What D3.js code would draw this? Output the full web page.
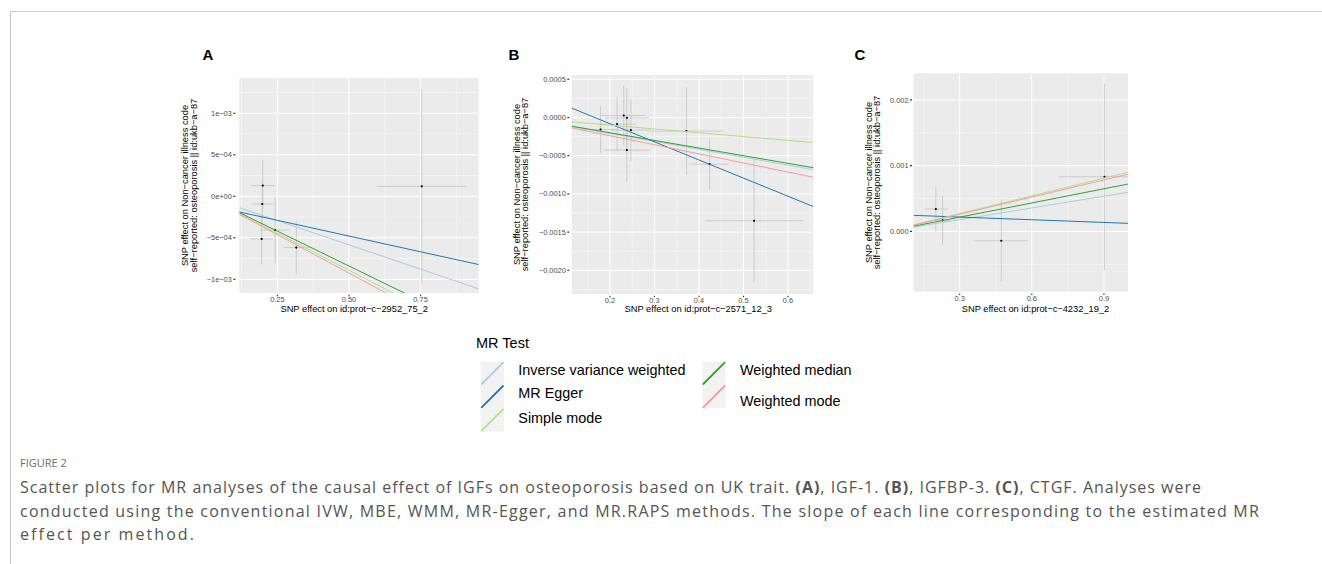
<!DOCTYPE html>
<html><head><meta charset="utf-8">
<script src="https://cdn.jsdelivr.net/npm/d3@7"></script>
<style>
body{margin:0;background:#fff;}
svg{display:block;font-family:"Liberation Sans",Arial,Helvetica,sans-serif;}
</style>
</head><body>
<svg id="chart" width="1322" height="564"></svg>
<script>
// ---------------- data ----------------
const methods = ["Inverse variance weighted","MR Egger","Simple mode","Weighted median","Weighted mode"];
const methodColors = ["#a6cee3","#1f78b4","#b2df8a","#33a02c","#fb9a99"];

// Panel A : IGF-1
const aExposure   = [0.199, 0.197, 0.242, 0.195, 0.316, 0.754];
const aOutcome    = [0.129e-3, -0.093e-3, -0.406e-3, -0.514e-3, -0.618e-3, 0.120e-3];
const aExposureHW = [0.042, 0.037, 0.052, 0.040, 0.044, 0.157];
const aOutcomeHW  = [0.31e-3, 0.28e-3, 0.40e-3, 0.308e-3, 0.325e-3, 1.17e-3];
const aIntercepts = [0, -0.100e-3, 0, 0, 0];
const aSlopes     = [-1.17e-3, -0.758e-3, -1.78e-3, -1.68e-3, -1.85e-3];
const aXDomain = [0.117, 0.953];
const aYDomain = [-1.165e-3, 1.425e-3];
const aXTicks = [0.25, 0.50, 0.75];
const aXTickLabels = ["0.25", "0.50", "0.75"];
const aYTicks = [-1e-3, -5e-4, 0, 5e-4, 1e-3];
const aYTickLabels = ["\u22121e\u221203", "\u22125e\u221204", "0e+00", "5e\u221204", "1e\u221203"];
const aXTitle = "SNP effect on id:prot\u2212c\u22122952_75_2";

// Panel B : IGFBP-3
const bExposure   = [0.179, 0.216, 0.231, 0.238, 0.247, 0.238, 0.372, 0.424, 0.524];
const bOutcome    = [-0.157e-3, -0.087e-3, 0.026e-3, -0.004e-3, -0.165e-3, -0.427e-3, -0.178e-3, -0.610e-3, -1.352e-3];
const bExposureHW = [0.040, 0.043, 0.050, 0.050, 0.045, 0.052, 0.083, 0.043, 0.110];
const bOutcomeHW  = [0.305e-3, 0.350e-3, 0.387e-3, 0.388e-3, 0.410e-3, 0.410e-3, 0.574e-3, 0.335e-3, 0.810e-3];
const bIntercepts = [0, 0.393e-3, 0, 0, 0];
const bSlopes     = [-1.04e-3, -2.372e-3, -0.50e-3, -1.00e-3, -1.19e-3];
const bXDomain = [0.114, 0.657];
const bYDomain = [-2.31e-3, 0.556e-3];
const bXTicks = [0.2, 0.3, 0.4, 0.5, 0.6];
const bXTickLabels = ["0.2", "0.3", "0.4", "0.5", "0.6"];
const bYTicks = [-0.002, -0.0015, -0.001, -0.0005, 0, 0.0005];
const bYTickLabels = ["\u22120.0020", "\u22120.0015", "\u22120.0010", "\u22120.0005", "0.0000", "0.0005"];
const bXTitle = "SNP effect on id:prot\u2212c\u22122571_12_3";

// Panel C : CTGF
const cExposure   = [0.201, 0.229, 0.473, 0.902];
const cOutcome    = [0.339e-3, 0.167e-3, -0.143e-3, 0.831e-3];
const cExposureHW = [0.048, 0.035, 0.110, 0.190];
const cOutcomeHW  = [0.343e-3, 0.373e-3, 0.625e-3, 1.42e-3];
const cIntercepts = [0, 0.258e-3, 0, 0, 0];
const cSlopes     = [0.594e-3, -0.136e-3, 0.90e-3, 0.72e-3, 0.87e-3];
const cXDomain = [0.108, 1.0];
const cYDomain = [-0.919e-3, 2.406e-3];
const cXTicks = [0.3, 0.6, 0.9];
const cXTickLabels = ["0.3", "0.6", "0.9"];
const cYTicks = [0, 0.001, 0.002];
const cYTickLabels = ["0.000", "0.001", "0.002"];
const cXTitle = "SNP effect on id:prot\u2212c\u22124232_19_2";

const yTitleLines = ["SNP effect on Non\u2212cancer illness code", "self\u2212reported: osteoporosis || id:ukb\u2212a\u221287"];
const panelLetters = ["A", "B", "C"];

// ---------------- layout ----------------
const svg = d3.select("#chart");
svg.append("rect").attr("width",1322).attr("height",564).attr("fill","#fff");
// frame
svg.append("line").attr("x1",10).attr("x2",1322).attr("y1",11.5).attr("y2",11.5).attr("stroke","#c8c8c8").attr("stroke-width",1);
svg.append("line").attr("x1",10.5).attr("x2",10.5).attr("y1",11).attr("y2",564).attr("stroke","#c8c8c8").attr("stroke-width",1);

const panels = [
  {ex:aExposure, out:aOutcome, exHW:aExposureHW, outHW:aOutcomeHW, ints:aIntercepts, slopes:aSlopes,
   xd:aXDomain, yd:aYDomain, xt:aXTicks, xtl:aXTickLabels, yt:aYTicks, ytl:aYTickLabels, xTitle:aXTitle,
   box:{l:239.3, r:478.7, t:78, b:293}, tickGap:5, titleX:[185,194], xTitleX:354.2, letterX:208},
  {ex:bExposure, out:bOutcome, exHW:bExposureHW, outHW:bOutcomeHW, ints:bIntercepts, slopes:bSlopes,
   xd:bXDomain, yd:bYDomain, xt:bXTicks, xtl:bXTickLabels, yt:bYTicks, ytl:bYTickLabels, xTitle:bXTitle,
   box:{l:571.7, r:813.3, t:75, b:294}, tickGap:3.4, titleX:[516.7,525], xTitleX:698.3, letterX:514},
  {ex:cExposure, out:cOutcome, exHW:cExposureHW, outHW:cOutcomeHW, ints:cIntercepts, slopes:cSlopes,
   xd:cXDomain, yd:cYDomain, xt:cXTicks, xtl:cXTickLabels, yt:cYTicks, ytl:cYTickLabels, xTitle:cXTitle,
   box:{l:913.5, r:1128, t:73.3, b:291.7}, tickGap:2.5, titleX:[868.3,876.7], xTitleX:1035.5, letterX:860}
];

function minorBreaks(ticks, domain){
  const step = ticks[1]-ticks[0];
  const out = [];
  for(let v = ticks[0]-step/2; v <= domain[1]; v += step){
    if (v >= domain[0]) out.push(v);
  }
  return out;
}

panels.forEach((p, pi) => {
  const x = d3.scaleLinear().domain(p.xd).range([p.box.l, p.box.r]);
  const y = d3.scaleLinear().domain(p.yd).range([p.box.b, p.box.t]);
  const g = svg.append("g");
  const clipId = "clip"+pi;
  svg.append("clipPath").attr("id",clipId).append("rect")
    .attr("x",p.box.l).attr("y",p.box.t).attr("width",p.box.r-p.box.l).attr("height",p.box.b-p.box.t);

  g.append("rect").attr("x",p.box.l).attr("y",p.box.t).attr("width",p.box.r-p.box.l).attr("height",p.box.b-p.box.t).attr("fill","#ebebeb");
  const gg = g.append("g").attr("clip-path",`url(#${clipId})`);
  minorBreaks(p.xt, p.xd).forEach(v => gg.append("line").attr("x1",x(v)).attr("x2",x(v)).attr("y1",p.box.t).attr("y2",p.box.b).attr("stroke","#fff").attr("stroke-width",0.5).attr("stroke-opacity",0.8));
  minorBreaks(p.yt, p.yd).forEach(v => gg.append("line").attr("y1",y(v)).attr("y2",y(v)).attr("x1",p.box.l).attr("x2",p.box.r).attr("stroke","#fff").attr("stroke-width",0.5).attr("stroke-opacity",0.8));
  p.xt.forEach(v => gg.append("line").attr("x1",x(v)).attr("x2",x(v)).attr("y1",p.box.t).attr("y2",p.box.b).attr("stroke","#fff").attr("stroke-width",1));
  p.yt.forEach(v => gg.append("line").attr("y1",y(v)).attr("y2",y(v)).attr("x1",p.box.l).attr("x2",p.box.r).attr("stroke","#fff").attr("stroke-width",1));

  // error bars
  p.ex.forEach((bx, i) => {
    gg.append("line").attr("x1",x(bx)).attr("x2",x(bx)).attr("y1",y(p.out[i]-p.outHW[i])).attr("y2",y(p.out[i]+p.outHW[i]))
      .attr("stroke","#bebebe").attr("stroke-width",0.7);
    gg.append("line").attr("y1",y(p.out[i])).attr("y2",y(p.out[i])).attr("x1",x(bx-p.exHW[i])).attr("x2",x(bx+p.exHW[i]))
      .attr("stroke","#bebebe").attr("stroke-width",0.7);
  });
  // points
  p.ex.forEach((bx, i) => {
    gg.append("circle").attr("cx",x(bx)).attr("cy",y(p.out[i])).attr("r",1.1).attr("fill","#000");
  });
  // MR lines
  methods.forEach((m, k) => {
    const f = v => p.ints[k] + p.slopes[k]*v;
    gg.append("line").attr("x1",x(p.xd[0])).attr("y1",y(f(p.xd[0]))).attr("x2",x(p.xd[1])).attr("y2",y(f(p.xd[1])))
      .attr("stroke",methodColors[k]).attr("stroke-width",1);
  });

  // axes ticks and labels
  const tickCol = "#333";
  p.yt.forEach((v, i) => {
    g.append("line").attr("x1",p.box.l-p.tickGap-1).attr("x2",p.box.l-p.tickGap+1).attr("y1",y(v)).attr("y2",y(v)).attr("stroke",tickCol).attr("stroke-width",1.2);
    g.append("text").attr("x",p.box.l-p.tickGap-2.5).attr("y",y(v)).attr("dy","0.35em").attr("text-anchor","end")
      .attr("font-size",7.4).attr("fill","#4d4d4d").text(p.ytl[i]);
  });
  p.xt.forEach((v, i) => {
    g.append("line").attr("x1",x(v)).attr("x2",x(v)).attr("y1",p.box.b+1.8).attr("y2",p.box.b+3.2).attr("stroke",tickCol).attr("stroke-width",1.1);
    g.append("text").attr("x",x(v)).attr("y",p.box.b+6.5).attr("dy","0.35em").attr("text-anchor","middle")
      .attr("font-size",7.4).attr("fill","#4d4d4d").text(p.xtl[i]);
  });
  // axis titles
  const cy = (p.box.t+p.box.b)/2;
  g.append("text").attr("x",p.xTitleX).attr("y",309).attr("dy","0.35em").attr("text-anchor","middle").attr("font-size",9.3).attr("fill","#000").text(p.xTitle);
  yTitleLines.forEach((t, j) => {
    g.append("text").attr("transform",`translate(${p.titleX[j]},${cy}) rotate(-90)`).attr("dy","0.35em").attr("text-anchor","middle")
      .attr("font-size",9.3).attr("fill","#000").text(t);
  });
  // panel letter
  g.append("text").attr("x",p.letterX).attr("y",55).attr("dy","0.35em").attr("text-anchor","middle")
    .attr("font-size",15).attr("font-weight","bold").attr("fill","#000").text(panelLetters[pi]);
});

// ---------------- legend ----------------
const leg = svg.append("g");
leg.append("text").attr("x",476).attr("y",343).attr("dy","0.35em").attr("font-size",14.5).attr("fill","#000").text("MR Test");
const legCols = [{x:480.7, items:[0,1,2], ty:[370,393.3,418.3]}, {x:702.3, items:[3,4], ty:[370,401]}];
const keyW = 23.3, keyTop = 361.7;
legCols.forEach(col => {
  col.items.forEach((k, r) => {
    const ky = keyTop + r*keyW;
    leg.append("rect").attr("x",col.x).attr("y",ky).attr("width",keyW).attr("height",keyW).attr("fill","#f2f2f2");
    leg.append("line").attr("x1",col.x+0.5).attr("y1",ky+keyW-0.5).attr("x2",col.x+keyW-0.5).attr("y2",ky+0.5)
      .attr("stroke",methodColors[k]).attr("stroke-width",1.8);
    leg.append("text").attr("x",col.x+37.6).attr("y",col.ty[r]).attr("dy","0.35em").attr("font-size",14.4).attr("fill","#000").text(methods[k]);
  });
});

// ---------------- caption ----------------
const cap = svg.append("g").attr("font-family","'Open Sans','Noto Sans',sans-serif").attr("fill","#555");
const fig = cap.append("text").attr("x",20).attr("y",463).attr("dy","0.35em").attr("font-size",11).attr("fill","#6b6b6b").text("FIGURE 2");
const capLines = [
  [["Scatter plots for MR analyses of the causal effect of IGFs on osteoporosis based on UK trait. ",0],["(A)",1],[", IGF-1. ",0],["(B)",1],[", IGFBP-3. ",0],["(C)",1],[", CTGF. Analyses were",0]],
  [["conducted using the conventional IVW, MBE, WMM, MR-Egger, and MR.RAPS methods. The slope of each line corresponding to the estimated MR",0]],
  [["effect per method.",0]]
];
const capY = [487.5, 511, 534];
const capTargetW = [1182, 1240, 176];
capLines.forEach((ln, i) => {
  const t = cap.append("text").attr("x",20).attr("y",capY[i]).attr("dy","0.35em").attr("font-size",16);
  ln.forEach(seg => t.append("tspan").attr("font-weight",seg[1]?"bold":"normal").text(seg[0]));
  const w = t.node().getComputedTextLength();
  const n = ln.map(s => s[0]).join("").length;
  t.attr("letter-spacing", ((capTargetW[i]-w)/n).toFixed(3));
});
</script>
</body></html>
